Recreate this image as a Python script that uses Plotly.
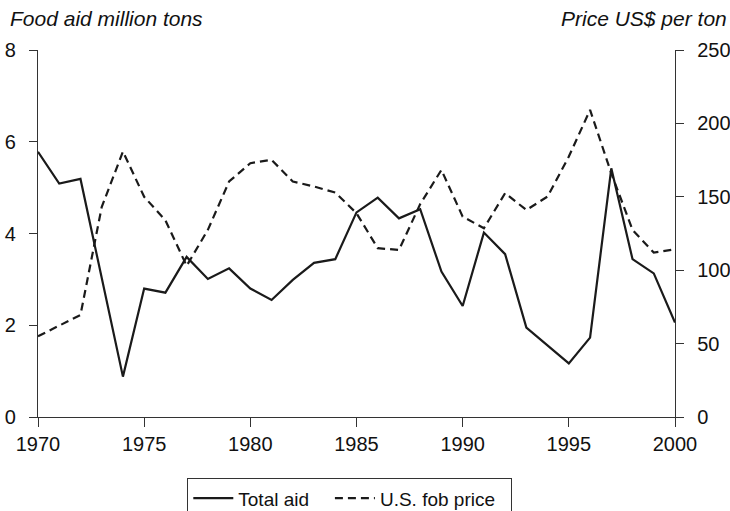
import plotly.graph_objects as go

years = list(range(1970, 2001))
total_aid = [5.78, 5.09, 5.19, 3.05, 0.88, 2.80, 2.71, 3.49, 3.01, 3.24,
             2.80, 2.55, 2.99, 3.36, 3.44, 4.46, 4.78, 4.33, 4.53, 3.17,
             2.42, 4.02, 3.55, 1.95, 1.55, 1.17, 1.73, 5.42, 3.44, 3.13, 2.06]
fob_price = [55, 62, 69.5, 143, 180.8, 150, 134, 103, 127.5, 160.4,
             172.9, 175.2, 160.4, 157, 152.9, 138.8, 115, 113.8, 145, 168.3,
             136.5, 128.6, 152.5, 141, 150.2, 177.4, 209.2, 166, 127.5, 112, 114.3]

left_ticks = [0, 2, 4, 6, 8]
right_ticks = [0, 50, 100, 150, 200, 250]
x_ticks = [1970, 1975, 1980, 1985, 1990, 1995, 2000]

FONT = "Liberation Sans, Arial, sans-serif"
AX = "#333333"
LINE = "#1a1a1a"
TXT = "#111111"
NB = "\u00a0"

fig = go.Figure()
fig.add_trace(go.Scatter(x=years, y=total_aid, mode="lines", name="Total aid" + NB * 3,
                         line=dict(color=LINE, width=2.2), yaxis="y"))
fig.add_trace(go.Scatter(x=years, y=fob_price, mode="lines", name="U.S. fob price" + NB * 2,
                         line=dict(color=LINE, width=2.2, dash="8px,5px"), yaxis="y2"))

common_y = dict(showgrid=False, zeroline=False, showline=True, linecolor=AX, linewidth=1.3,
                tickcolor=AX, ticklen=8, tickwidth=1.3, automargin=False,
                tickfont=dict(family=FONT, size=20, color=TXT))

fig.update_layout(
    width=730, height=511,
    margin=dict(l=38, r=55, t=50, b=94, autoexpand=False),
    paper_bgcolor="white", plot_bgcolor="white",
    font=dict(family=FONT, size=18, color=TXT),
    xaxis=dict(range=[1970, 2000], tickmode="array", tickvals=x_ticks, showgrid=False,
               zeroline=False, automargin=False,
               showline=True, linecolor=AX, linewidth=1.3, ticks="outside", ticklen=9,
               tickwidth=1.3, tickcolor=AX, tickfont=dict(family=FONT, size=20, color=TXT)),
    yaxis=dict(range=[0, 8], tickmode="array", tickvals=left_ticks, ticks="outside",
               side="left", ticklabelstandoff=9, **common_y),
    yaxis2=dict(range=[0, 250], tickmode="array", tickvals=right_ticks, ticks="outside",
                side="right", overlaying="y", anchor="x", ticklabelstandoff=9, **common_y),
    yaxis3=dict(range=[0, 8], tickmode="array", tickvals=left_ticks, ticks="inside",
                side="left", overlaying="y", anchor="x", showticklabels=False,
                showgrid=False, zeroline=False, showline=False, tickcolor=AX,
                ticklen=7, tickwidth=1.3, automargin=False),
    yaxis4=dict(range=[0, 250], tickmode="array", tickvals=right_ticks, ticks="inside",
                side="right", overlaying="y", anchor="x", showticklabels=False,
                showgrid=False, zeroline=False, showline=False, tickcolor=AX,
                ticklen=7, tickwidth=1.3, automargin=False),
    showlegend=True,
    legend=dict(orientation="h", x=(187 - 38) / 637, y=(417 - 478) / 367,
                xanchor="left", yanchor="top", itemwidth=40,
                bordercolor=AX, borderwidth=1.3,
                font=dict(family=FONT, size=19, color=TXT), bgcolor="white"),
    annotations=[
        dict(text="<i>Food aid million tons</i>", xref="paper", yref="paper",
             x=(8 - 38) / 637, y=(417 - 18) / 367, xanchor="left", yanchor="middle",
             showarrow=False, font=dict(family=FONT, size=21, color=TXT)),
        dict(text="<i>Price US$ per ton</i>", xref="paper", yref="paper",
             x=(729 - 38) / 637, y=(417 - 18) / 367, xanchor="right", yanchor="middle",
             showarrow=False, font=dict(family=FONT, size=21, color=TXT)),
    ],
)

fig.write_html("out.html", config={"displayModeBar": False},
               post_script="document.body.style.margin='0';document.body.style.overflow='hidden';")
